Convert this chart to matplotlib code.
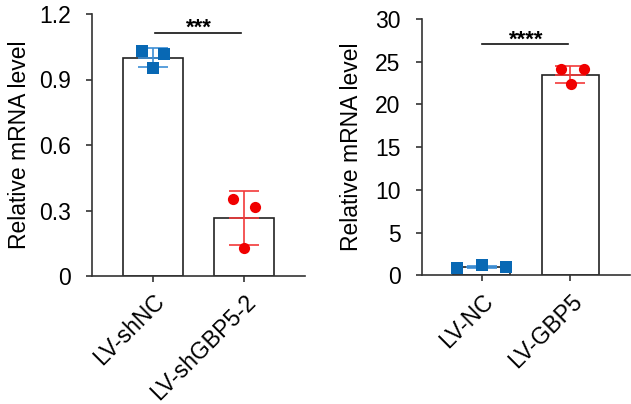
import matplotlib
matplotlib.use("Agg")
import matplotlib.pyplot as plt
import matplotlib.transforms as mtransforms
import numpy as np

plt.rcParams['font.family'] = ['Liberation Sans', 'DejaVu Sans']

# Left panel data
left_groups = ["LV-shNC", "LV-shGBP5-2"]
left_means = [1.0, 0.266]
left_sd = [0.042, 0.123]
left_points = [[1.030, 1.017, 0.953], [0.353, 0.316, 0.128]]
left_yticks = [0, 0.3, 0.6, 0.9, 1.2]
left_yticklabels = ["0", "0.3", "0.6", "0.9", "1.2"]
left_sig = "***"

# Right panel data
right_groups = ["LV-NC", "LV-GBP5"]
right_means = [0.98, 23.5]
right_sd = [0.15, 0.98]
right_points = [[0.82, 1.17, 0.94], [24.2, 24.2, 22.4]]
right_yticks = [0, 5, 10, 15, 20, 25, 30]
right_sig = "****"

jitter_left = [[-0.12, 0.12, 0.0], [-0.12, 0.12, 0.0]]
jitter_right = [[-0.28, 0.0, 0.27], [-0.11, 0.15, 0.01]]

colors = ["#0868b4", "#f00000"]
errcolors = ["#3d8fd6", "#f23a3a"]
markers = ["s", "o"]

FS = 16.5

fig = plt.figure(figsize=(6.31, 4.04), dpi=100)

ax1 = fig.add_axes([92 / 631, 1 - 276 / 404, 213 / 631, 262 / 404])
ax2 = fig.add_axes([422 / 631, 1 - 275.3 / 404, 208 / 631, 256.3 / 404])


def draw(ax, groups, means, sd, points, jit, ylim, yticks, yticklabels, sig,
         sig_x, sig_y, sig_text_y, labelpad):
    x = np.arange(len(groups))
    ax.bar(x, means, width=0.65, color="white", edgecolor="#222222", linewidth=1.2, zorder=1)
    for i in range(len(groups)):
        ax.errorbar(x[i], means[i], yerr=sd[i], color=errcolors[i], capsize=11,
                    elinewidth=1.2, capthick=1.2, zorder=2)
        ax.hlines(means[i], x[i] - 0.17, x[i] + 0.17, color=errcolors[i], linewidth=1.2, zorder=2)
        ax.scatter(x[i] + np.array(jit[i]), points[i], marker=markers[i], s=65,
                   color=colors[i], zorder=3, linewidths=0)
    ax.set_xlim(-0.67, 1.67)
    ax.set_ylim(*ylim)
    ax.set_yticks(yticks)
    ax.set_yticklabels(yticklabels, fontsize=FS)
    ax.set_xticks(x)
    ax.set_xticklabels(groups, rotation=45, ha="right", va="top", rotation_mode="anchor", fontsize=FS)
    offset = mtransforms.ScaledTranslation(7 / 72, 0, fig.dpi_scale_trans)
    for lab in ax.get_xticklabels():
        lab.set_transform(lab.get_transform() + offset)
    ax.set_ylabel("Relative mRNA level", fontsize=FS, labelpad=labelpad)
    for s in ["top", "right"]:
        ax.spines[s].set_visible(False)
    for s in ["left", "bottom"]:
        ax.spines[s].set_color("#333333")
        ax.spines[s].set_linewidth(1.2)
    ax.tick_params(axis="both", direction="out", length=4.3, width=1.2, color="#333333")
    ax.tick_params(axis="y", pad=11)
    ax.tick_params(axis="x", pad=6)
    ax.plot(sig_x, [sig_y, sig_y], color="#111111", linewidth=1.2, clip_on=False)
    ax.text((x[0] + x[1]) / 2, sig_text_y, sig, ha="center", va="baseline", fontsize=16,
            fontweight="bold", clip_on=False)


draw(ax1, left_groups, left_means, left_sd, left_points, jitter_left, (0, 1.2),
     left_yticks, left_yticklabels, left_sig, [0.02, 0.967], 1.115, 1.108, 6)
draw(ax2, right_groups, right_means, right_sd, right_points, jitter_right, (0, 30),
     right_yticks, [str(v) for v in right_yticks], right_sig, [0.01, 0.977], 27.07, 26.86, 8.6)

fig.savefig("out.png", dpi=100)
